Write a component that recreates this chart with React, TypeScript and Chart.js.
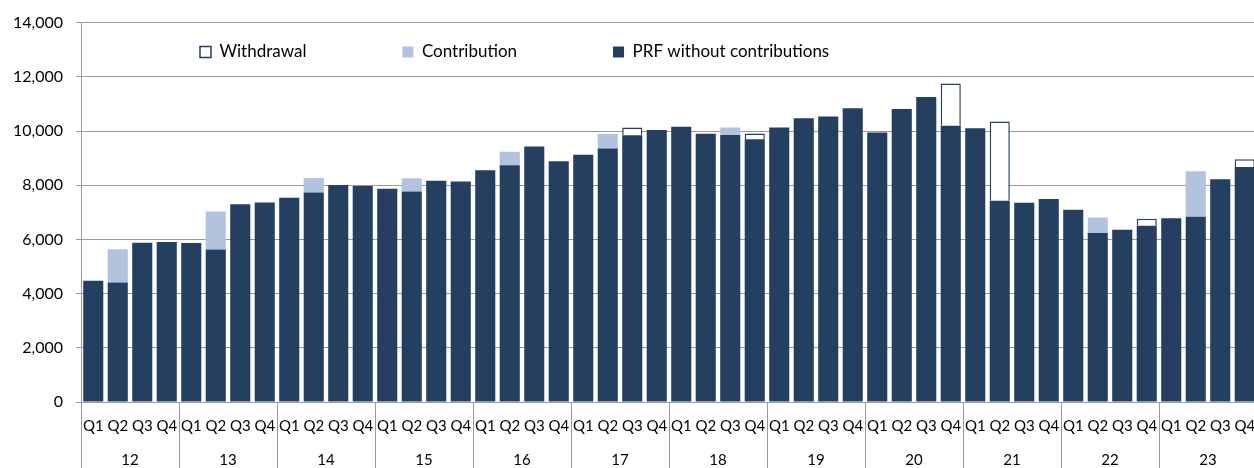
import { useEffect, useRef } from 'react';
import { Chart, registerables } from 'chart.js';

Chart.register(...registerables);

const years = ['12', '13', '14', '15', '16', '17', '18', '19', '20', '21', '22', '23'];
const quarters = ['Q1', 'Q2', 'Q3', 'Q4'];
const quarterLabels = years.flatMap(() => quarters);

const prfWithoutContributions = [
  4470, 4410, 5880, 5905,
  5870, 5625, 7300, 7360,
  7535, 7730, 8010, 7975,
  7865, 7765, 8160, 8135,
  8550, 8735, 9430, 8880,
  9125, 9350, 9840, 10035,
  10155, 9895, 9850, 9700,
  10130, 10475, 10535, 10840,
  9945, 10815, 11255, 10190,
  10105, 7425, 7350, 7495,
  7095, 6235, 6360, 6505,
  6785, 6835, 8220, 8675,
];

const contribution = [
  null, 1225, null, null,
  null, 1405, null, null,
  null, 540, null, null,
  null, 490, null, null,
  null, 500, null, null,
  null, 540, null, null,
  null, null, 280, null,
  null, null, null, null,
  null, null, null, null,
  null, null, null, null,
  null, 575, null, null,
  null, 1680, null, null,
];

const withdrawal = [
  null, null, null, null,
  null, null, null, null,
  null, null, null, null,
  null, null, null, null,
  null, null, null, null,
  null, null, 290, null,
  null, null, null, 210,
  null, null, null, null,
  null, null, null, 1560,
  null, 2925, null, null,
  null, null, null, 255,
  null, null, null, 280,
];

const DARK = '#253F60';
const LIGHT = '#B3C3DE';
const GRAY = '#9a9a9a';
const FONT = 'Lato';

const LEGEND_X = 200;
const LEGEND_Y = 43.5;
const LEGEND_GAP = 96;

const legendPlacer = {
  id: 'legendPlacer',
  afterLayout(chart: any) {
    const lg = chart.legend;
    if (!lg) return;
    lg.left = LEGEND_X - LEGEND_GAP;
    lg.right = chart.width + 1000;
    lg.top = LEGEND_Y - LEGEND_GAP;
    lg.bottom = LEGEND_Y + 40;
  },
};

export default function App() {
  const ref = useRef<HTMLCanvasElement | null>(null);

  useEffect(() => {
    document.body.style.overflow = 'hidden';
    document.documentElement.style.overflow = 'hidden';
    const canvas = ref.current;
    if (!canvas) return;
    const chart = new Chart(canvas, {
      type: 'bar',
      data: {
        labels: quarterLabels,
        datasets: [
          {
            label: 'PRF without contributions',
            data: prfWithoutContributions,
            backgroundColor: DARK,
            borderWidth: 0,
            stack: 's',
          },
          {
            label: 'Contribution',
            data: contribution as any,
            backgroundColor: LIGHT,
            borderWidth: 0,
            stack: 's',
          },
          {
            label: 'Withdrawal',
            data: withdrawal as any,
            backgroundColor: '#ffffff',
            borderColor: DARK,
            borderWidth: 1.5,
            stack: 's',
          },
        ],
      },
      options: {
        responsive: false,
        animation: false,
        events: [],
        datasets: {
          bar: { barPercentage: 0.82, categoryPercentage: 1 },
        },
        layout: { padding: { top: 21, bottom: 58, left: 0, right: 0 } },
        plugins: {
          tooltip: { enabled: false },
          legend: {
            display: true,
            position: 'top',
            align: 'start',
            reverse: true,
            maxHeight: 0.001,
            labels: {
              boxWidth: 11,
              boxHeight: 11,
              padding: LEGEND_GAP,
              color: '#000',
              font: { family: FONT, size: 17 },
            },
          },
        },
        scales: {
          x: {
            type: 'category',
            stacked: true,
            offset: true,
            grid: {
              display: true,
              offset: true,
              drawOnChartArea: false,
              drawTicks: true,
              tickLength: 70,
              lineWidth: 1,
              color: (c: any) =>
                c.index === undefined || c.index % 4 === 0 ? GRAY : 'rgba(0,0,0,0)',
            },
            border: { display: true, color: GRAY, width: 1 },
            ticks: {
              autoSkip: false,
              maxRotation: 0,
              minRotation: 0,
              mirror: true,
              padding: -33,
              color: '#000',
              font: { family: FONT, size: 15 },
            },
          },
          x2: {
            type: 'category',
            labels: years,
            position: 'bottom',
            offset: true,
            grid: {
              display: true,
              offset: true,
              drawOnChartArea: false,
              drawTicks: true,
              tickLength: 130,
              lineWidth: 1,
              color: 'rgba(0,0,0,0)',
            },
            border: { display: false },
            ticks: {
              autoSkip: false,
              maxRotation: 0,
              minRotation: 0,
              mirror: true,
              padding: -63,
              color: '#000',
              font: { family: FONT, size: 15 },
            },
          },
          y: {
            stacked: true,
            min: 0,
            max: 14000,
            afterFit: (s: any) => {
              s.width = 81;
            },
            grid: { color: GRAY, lineWidth: 1, tickLength: 5 },
            border: { display: true, color: GRAY, width: 1 },
            ticks: {
              stepSize: 2000,
              padding: 13,
              color: '#000',
              font: { family: FONT, size: 16 },
              callback: (v: any) => Number(v).toLocaleString('en-US'),
            },
          },
        },
      },
      plugins: [legendPlacer],
    } as any);
    return () => chart.destroy();
  }, []);

  return (
    <canvas
      ref={ref}
      width={1257}
      height={468}
      style={{ position: 'absolute', left: 0, top: 0, display: 'block' }}
    />
  );
}
